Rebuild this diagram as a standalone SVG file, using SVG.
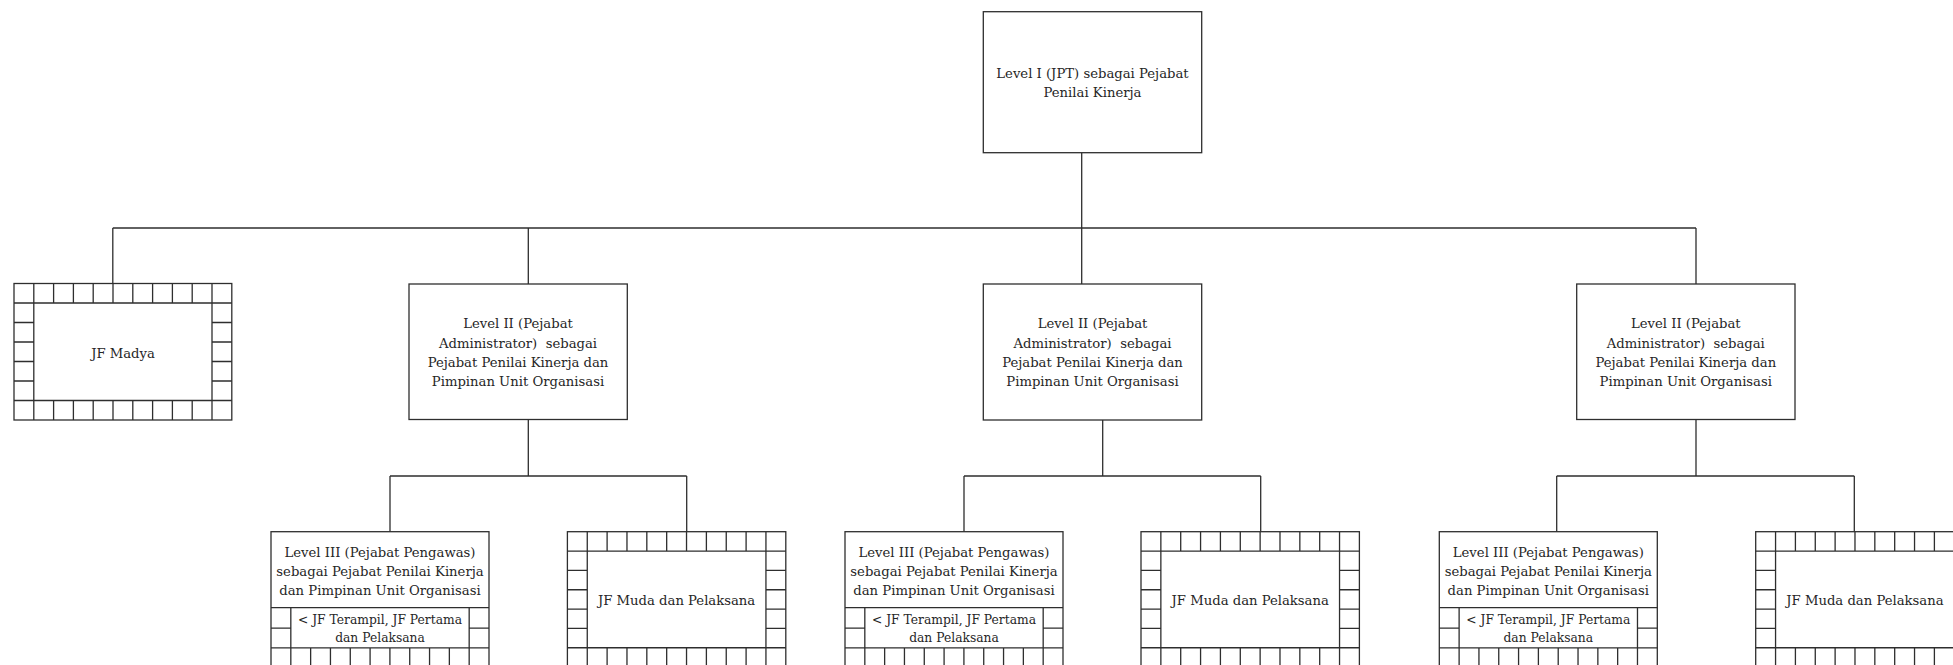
<svg xmlns="http://www.w3.org/2000/svg" xmlns:xlink="http://www.w3.org/1999/xlink" width="1953" height="665" viewBox="0 0 1953 665">
  <style>
    .box { fill: #ffffff; stroke: #2e2e2e; stroke-width: 1.3; }
    .grid { fill: none; stroke: #2e2e2e; stroke-width: 1.3; }
    .wire { fill: none; stroke: #2e2e2e; stroke-width: 1.3; }
    .t { font-family: "DejaVu Serif", "Liberation Serif", serif; font-size: 13.2px; fill: #262626; text-anchor: middle; }
    .ts { font-family: "DejaVu Serif", "Liberation Serif", serif; font-size: 12.3px; fill: #262626; text-anchor: middle; }
  </style>
  <defs>
    <!-- framed box: one ring of cells round an empty centre (11 x 7 cells) -->
    <g id="cellFrame">
      <rect class="box" x="0" y="0" width="218.4" height="135.4"/>
      <path class="grid" d="M0 19.35H218.4M0 116.05H218.4M19.86 0V135.4M198.54 0V135.4
        M39.71 0V19.35M59.57 0V19.35M79.42 0V19.35M99.28 0V19.35M119.13 0V19.35M138.99 0V19.35M158.84 0V19.35M178.7 0V19.35
        M39.71 116.05V135.4M59.57 116.05V135.4M79.42 116.05V135.4M99.28 116.05V135.4M119.13 116.05V135.4M138.99 116.05V135.4M158.84 116.05V135.4M178.7 116.05V135.4
        M0 38.7H19.86M0 58.05H19.86M0 77.4H19.86M0 96.75H19.86
        M198.54 38.7H218.4M198.54 58.05H218.4M198.54 77.4H218.4M198.54 96.75H218.4"/>
    </g>
    <!-- Level III box: text area on top, framed sub-box below -->
    <g id="levelThreeFrame">
      <rect class="box" x="0" y="0" width="218" height="136"/>
      <path class="grid" d="M0 76H218M0 116.2H218M19.82 76V136M198.18 76V136
        M0 96.4H19.82M198.18 96.4H218
        M39.64 116.2V136M59.45 116.2V136M79.27 116.2V136M99.09 116.2V136M118.91 116.2V136M138.73 116.2V136M158.55 116.2V136M178.36 116.2V136"/>
    </g>
  </defs>

  <rect x="0" y="0" width="1953" height="665" fill="#ffffff"/>

  <!-- connectors -->
  <g id="connectors" class="wire">
    <path d="M1081.7 152.7V228"/>
    <path d="M112.8 228H1696"/>
    <path d="M112.8 228V283.5M528.3 228V284M1081.7 228V284M1696 228V284"/>
    <path d="M528.3 419.5V476M1102.7 420V476M1696 419.5V476"/>
    <path d="M390 476H686.7M964 476H1260.7M1556.7 476H1854.3"/>
    <path d="M390 476V531.7M686.7 476V531.7M964 476V531.7M1260.7 476V531.7M1556.7 476V531.7M1854.3 476V531.7"/>
  </g>

  <!-- Level I -->
  <g id="level-1">
    <rect class="box" x="983.3" y="11.7" width="218.4" height="141"/>
    <text class="t" x="1092.5" y="77.5">Level I (JPT) sebagai Pejabat</text>
    <text class="t" x="1092.5" y="96.5">Penilai Kinerja</text>
  </g>

  <!-- JF Madya -->
  <g id="jf-madya">
    <rect class="box" x="14" y="283.5" width="217.8" height="136.5"/>
    <path class="grid" d="M14 303H231.8M14 400.5H231.8M33.8 283.5V420M212 283.5V420
      M53.6 283.5V303M73.4 283.5V303M93.2 283.5V303M113 283.5V303M132.8 283.5V303M152.6 283.5V303M172.4 283.5V303M192.2 283.5V303
      M53.6 400.5V420M73.4 400.5V420M93.2 400.5V420M113 400.5V420M132.8 400.5V420M152.6 400.5V420M172.4 400.5V420M192.2 400.5V420
      M14 322.5H33.8M14 342H33.8M14 361.5H33.8M14 381H33.8
      M212 322.5H231.8M212 342H231.8M212 361.5H231.8M212 381H231.8"/>
    <text class="t" x="123" y="358">JF Madya</text>
  </g>

  <!-- Level II, left -->
  <g id="level-2-a">
    <rect class="box" x="409" y="284" width="218.3" height="135.5"/>
    <text class="t" x="518" y="328">Level II (Pejabat</text>
    <text class="t" x="518" y="347.5">Administrator)&#160; sebagai</text>
    <text class="t" x="518" y="367">Pejabat Penilai Kinerja dan</text>
    <text class="t" x="518" y="386">Pimpinan Unit Organisasi</text>
  </g>

  <!-- Level II, middle -->
  <g id="level-2-b">
    <rect class="box" x="983.3" y="284" width="218.4" height="136"/>
    <text class="t" x="1092.5" y="328">Level II (Pejabat</text>
    <text class="t" x="1092.5" y="347.5">Administrator)&#160; sebagai</text>
    <text class="t" x="1092.5" y="367">Pejabat Penilai Kinerja dan</text>
    <text class="t" x="1092.5" y="386">Pimpinan Unit Organisasi</text>
  </g>

  <!-- Level II, right -->
  <g id="level-2-c">
    <rect class="box" x="1576.7" y="284" width="218.3" height="135.5"/>
    <text class="t" x="1685.8" y="328">Level II (Pejabat</text>
    <text class="t" x="1685.8" y="347.5">Administrator)&#160; sebagai</text>
    <text class="t" x="1685.8" y="367">Pejabat Penilai Kinerja dan</text>
    <text class="t" x="1685.8" y="386">Pimpinan Unit Organisasi</text>
  </g>

  <!-- Level III, left -->
  <g id="level-3-a">
    <use xlink:href="#levelThreeFrame" transform="translate(271 531.7)"/>
    <text class="t" x="380" y="557">Level III (Pejabat Pengawas)</text>
    <text class="t" x="380" y="576">sebagai Pejabat Penilai Kinerja</text>
    <text class="t" x="380" y="595">dan Pimpinan Unit Organisasi</text>
    <text class="ts" x="380" y="623.5">&lt; JF Terampil, JF Pertama</text>
    <text class="ts" x="380" y="641.5">dan Pelaksana</text>
  </g>

  <!-- JF Muda, left -->
  <g id="jf-muda-a">
    <use xlink:href="#cellFrame" transform="translate(567.4 531.7)"/>
    <text class="t" x="676.6" y="605">JF Muda dan Pelaksana</text>
  </g>

  <!-- Level III, middle -->
  <g id="level-3-b">
    <use xlink:href="#levelThreeFrame" transform="translate(845 531.7)"/>
    <text class="t" x="954" y="557">Level III (Pejabat Pengawas)</text>
    <text class="t" x="954" y="576">sebagai Pejabat Penilai Kinerja</text>
    <text class="t" x="954" y="595">dan Pimpinan Unit Organisasi</text>
    <text class="ts" x="954" y="623.5">&lt; JF Terampil, JF Pertama</text>
    <text class="ts" x="954" y="641.5">dan Pelaksana</text>
  </g>

  <!-- JF Muda, middle -->
  <g id="jf-muda-b">
    <use xlink:href="#cellFrame" transform="translate(1141 531.7)"/>
    <text class="t" x="1250.2" y="605">JF Muda dan Pelaksana</text>
  </g>

  <!-- Level III, right -->
  <g id="level-3-c">
    <use xlink:href="#levelThreeFrame" transform="translate(1439.3 531.7)"/>
    <text class="t" x="1548.3" y="557">Level III (Pejabat Pengawas)</text>
    <text class="t" x="1548.3" y="576">sebagai Pejabat Penilai Kinerja</text>
    <text class="t" x="1548.3" y="595">dan Pimpinan Unit Organisasi</text>
    <text class="ts" x="1548.3" y="623.5">&lt; JF Terampil, JF Pertama</text>
    <text class="ts" x="1548.3" y="641.5">dan Pelaksana</text>
  </g>

  <!-- JF Muda, right (runs past the right edge) -->
  <g id="jf-muda-c">
    <use xlink:href="#cellFrame" transform="translate(1755.7 531.7)"/>
    <text class="t" x="1864.9" y="605">JF Muda dan Pelaksana</text>
  </g>
</svg>
